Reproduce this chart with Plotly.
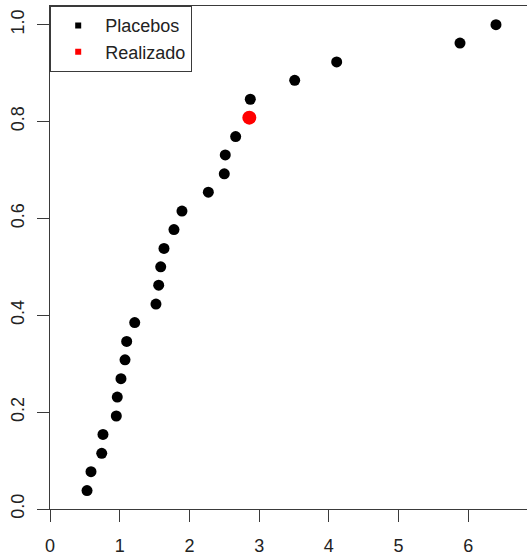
import plotly.graph_objects as go

# Placebo effects (x) and their empirical cumulative proportion (y)
placebo_x = [0.531, 0.588, 0.742, 0.760, 0.951, 0.965, 1.018, 1.076, 1.100, 1.215,
             1.520, 1.559, 1.588, 1.635, 1.778, 1.893, 2.271, 2.500, 2.514, 2.663,
             2.873, 3.510, 4.112, 5.881, 6.397]
placebo_y = [0.038, 0.077, 0.115, 0.154, 0.192, 0.231, 0.269, 0.308, 0.346, 0.385,
             0.423, 0.462, 0.500, 0.538, 0.577, 0.615, 0.654, 0.692, 0.731, 0.769,
             0.846, 0.885, 0.923, 0.962, 1.000]
real_x = [2.859]
real_y = [0.808]

legend_names = ["Placebos", "Realizado"]
x_ticks = [0, 1, 2, 3, 4, 5, 6]
y_ticks = [0.0, 0.2, 0.4, 0.6, 0.8, 1.0]
y_tick_text = ["0.0", "0.2", "0.4", "0.6", "0.8", "1.0"]

FONT = "Liberation Sans, Arial, sans-serif"
AXC = "#3a3a3a"

fig = go.Figure()
fig.add_trace(go.Scatter(x=placebo_x, y=placebo_y, mode="markers",
                         marker=dict(color="black", size=11, symbol="circle"),
                         showlegend=False, hoverinfo="x+y"))
fig.add_trace(go.Scatter(x=real_x, y=real_y, mode="markers",
                         marker=dict(color="red", size=14, symbol="circle"),
                         showlegend=False, hoverinfo="x+y"))
# legend entries (small squares as in the original)
fig.add_trace(go.Scatter(x=[None], y=[None], mode="markers", name=legend_names[0],
                         marker=dict(color="black", size=6, symbol="square")))
fig.add_trace(go.Scatter(x=[None], y=[None], mode="markers", name=legend_names[1],
                         marker=dict(color="red", size=6, symbol="square")))

fig.update_layout(
    width=527, height=556,
    margin=dict(l=50, r=0, t=6, b=47),
    plot_bgcolor="white", paper_bgcolor="white",
    font=dict(family=FONT, size=18, color="#222"),
    legend=dict(x=0, y=1, xanchor="left", yanchor="top",
                bordercolor=AXC, borderwidth=1.2, bgcolor="white",
                font=dict(family=FONT, size=18, color="#222"),
                itemwidth=44, tracegroupgap=0),
    xaxis=dict(range=[0, 6.842], tickmode="array", tickvals=x_ticks,
               showgrid=False, zeroline=False, showline=True, mirror=True,
               linecolor=AXC, linewidth=1.2, ticks="outside", ticklen=12,
               tickcolor=AXC, tickwidth=1.2, ticklabelstandoff=8,
               tickfont=dict(family=FONT, size=18, color="#222")),
    yaxis=dict(range=[0, 1.0385], tickmode="array", tickvals=y_ticks,
               ticktext=y_tick_text, tickangle=-90,
               showgrid=False, zeroline=False, showline=True, mirror=False,
               linecolor=AXC, linewidth=1.2, ticks="outside", ticklen=12,
               tickcolor=AXC, tickwidth=1.2, ticklabelstandoff=6,
               tickfont=dict(family=FONT, size=18, color="#222")),
)

fig.write_html("out.html")
